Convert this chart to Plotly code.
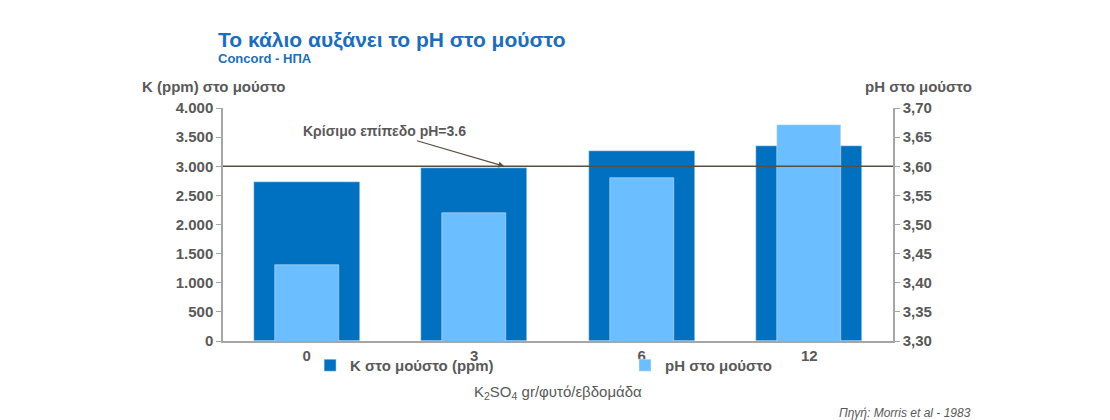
import plotly.graph_objects as go

categories = ["0", "3", "6", "12"]
k_ppm = [2730, 2970, 3260, 3340]
ph = [3.43, 3.52, 3.58, 3.67]
left_ticks = [0, 500, 1000, 1500, 2000, 2500, 3000, 3500, 4000]
left_labels = ["0", "500", "1.000", "1.500", "2.000", "2.500", "3.000", "3.500", "4.000"]
right_ticks = [3.30, 3.35, 3.40, 3.45, 3.50, 3.55, 3.60, 3.65, 3.70]
right_labels = ["3,30", "3,35", "3,40", "3,45", "3,50", "3,55", "3,60", "3,65", "3,70"]
critical_k = 3000

dark = "#0070C0"
light = "#6BBEFF"
grey = "#595959"
font = "Liberation Sans, Arial"

def b(items):
    return ["<b>" + s + "</b>" for s in items]

fig = go.Figure()
fig.add_trace(go.Bar(x=categories, y=k_ppm, name="<b>K στο μούστο (ppm)</b>",
                     marker_color=dark, width=0.63, legend="legend"))
fig.add_trace(go.Bar(x=categories, y=ph, name="<b>pH στο μούστο</b>", yaxis="y2",
                     marker_color=light, width=0.38, legend="legend2"))

fig.add_shape(type="line", xref="paper", x0=0, x1=1, yref="y", y0=critical_k, y1=critical_k,
              line=dict(color="#594F40", width=1.5))

fig.add_annotation(x=0.42, y=3000, xref="paper", yref="y", ax=-120, ay=-35,
                   text="<b>Κρίσιμο επίπεδο pH=3.6</b>", showarrow=True, arrowhead=2,
                   arrowsize=1, arrowwidth=1.2, arrowcolor="#594F40",
                   font=dict(size=14, color=grey, family=font), xanchor="center")

leg = dict(orientation="h", y=-0.105, xanchor="left", yanchor="middle",
           font=dict(size=15, color=grey), bgcolor="rgba(0,0,0,0)")

fig.update_layout(
    width=1110, height=420,
    margin=dict(l=215, r=225, t=100, b=87, autoexpand=False),
    plot_bgcolor="white", paper_bgcolor="white",
    barmode="overlay", bargap=0,
    font=dict(family=font, color=grey, size=14),
    showlegend=True,
    legend=dict(leg, x=0.13),
    legend2=dict(leg, x=0.6),
    xaxis=dict(showline=True, linecolor="#A6A6A6", linewidth=1.5,
               tickvals=categories, ticktext=b(categories),
               tickfont=dict(size=15, color=grey), ticks="", fixedrange=True),
    yaxis=dict(range=[0, 4000], tickvals=left_ticks, ticktext=b(left_labels),
               showgrid=False, showline=True, linecolor="#A6A6A6", linewidth=1.5,
               ticks="outside", ticklen=5, tickcolor="#A6A6A6",
               tickfont=dict(size=15, color=grey)),
    yaxis2=dict(range=[3.30, 3.70], tickvals=right_ticks, ticktext=b(right_labels),
                overlaying="y", side="right", showgrid=False, showline=True,
                linecolor="#A6A6A6", linewidth=1.5, ticks="outside", ticklen=5,
                tickcolor="#A6A6A6", tickfont=dict(size=15, color=grey)),
)

def ann(text, xpx, ypx, size, color, anchor="left", bold=True, italic=False):
    t = text
    if bold:
        t = "<b>" + t + "</b>"
    if italic:
        t = "<i>" + t + "</i>"
    fig.add_annotation(x=(xpx - 215) / 670, y=(333 - ypx) / 233, xref="paper", yref="paper",
                       text=t, showarrow=False, xanchor=anchor, yanchor="middle",
                       font=dict(size=size, color=color, family=font))

ann("Το κάλιο αυξάνει το pH στο μούστο", 208, 31, 21, "#1A6EC0")
ann("Concord - ΗΠΑ", 208, 51, 13, "#1A6EC0")
ann("K (ppm) στο μούστο", 132, 78, 15, grey)
ann("pH στο μούστο", 966, 78, 15, grey, anchor="right")
ann("K<sub>2</sub>SO<sub>4</sub> gr/φυτό/εβδομάδα", 550, 384, 15, grey, anchor="center", bold=False)
ann("Πηγή: Morris et al - 1983", 965, 405, 12, grey, anchor="right", bold=False, italic=True)

fig.write_html("out.html")
